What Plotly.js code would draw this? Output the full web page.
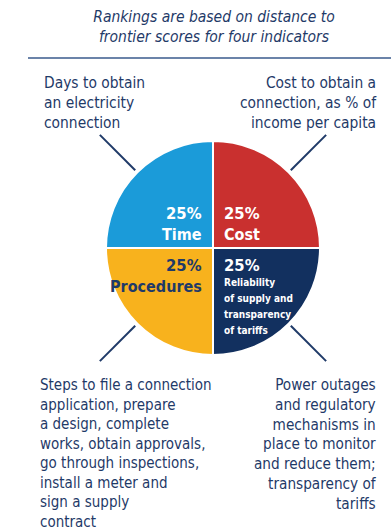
<!DOCTYPE html>
<html>
<head>
<meta charset="utf-8">
<script src="https://cdn.plot.ly/plotly-3.0.1.min.js"></script>
<style>html,body{margin:0;padding:0;background:#fff;}#chart{width:391px;height:532px;}</style>
</head>
<body>
<div id="chart"></div>
<script>
// Data
const categories = ['Time', 'Cost', 'Reliability of supply and transparency of tariffs', 'Procedures'];
const shares = [25, 25, 25, 25];
const shareLabels = ['25%', '25%', '25%', '25%'];
const sliceNames = ['Time', 'Cost', 'Reliability<br>of supply and<br>transparency<br>of tariffs', 'Procedures'];
const sliceColors = ['#1b9bd9', '#c9302f', '#12305f', '#f8b21d'];
const titleText = 'Rankings are based on distance to<br>frontier scores for four indicators';
const descriptions = [
  'Days to obtain<br>an electricity<br>connection',
  'Cost to obtain a<br>connection, as % of<br>income per capita',
  'Power outages<br>and regulatory<br>mechanisms in<br>place to monitor<br>and reduce them;<br>transparency of<br>tariffs',
  'Steps to file a connection<br>application, prepare<br>a design, complete<br>works, obtain approvals,<br>go through inspections,<br>install a meter and<br>sign a supply<br>contract'
];

const W = 391, H = 532;
const px = x => x / W;
const py = y => 1 - y / H;
const navy = '#1f3a68';
const FONT = 'Liberation Sans Narrow, DejaVu Sans Condensed, Arial Narrow, sans-serif';

const cx = 213, cy = 248, R = 107;

const trace = {
  type: 'pie',
  labels: categories,
  values: shares,
  sort: false,
  direction: 'clockwise',
  rotation: -90,
  marker: {colors: sliceColors, line: {color: '#ffffff', width: 2}},
  textinfo: 'none',
  hoverinfo: 'label+percent',
  showlegend: false,
  domain: {x: [px(cx - R), px(cx + R)], y: [py(cy + R), py(cy - R)]}
};

// Positions per slice (Time, Cost, Reliability, Procedures); y = centre of first line
const pctPos = [
  {x: 204, y: 213, xa: 'right', col: '#ffffff'},
  {x: 222, y: 213, xa: 'left', col: '#ffffff'},
  {x: 222, y: 265, xa: 'left', col: '#ffffff'},
  {x: 204, y: 265, xa: 'right', col: navy}
];
const namePos = [
  {x: 204, y: 234, xa: 'right', col: '#ffffff', size: 16, step: 21},
  {x: 222, y: 234, xa: 'left', col: '#ffffff', size: 16, step: 21},
  {x: 222, y: 282, xa: 'left', col: '#ffffff', size: 10, step: 16.3},
  {x: 204, y: 286, xa: 'right', col: navy, size: 16, step: 21}
];
const descPos = [
  {x: 42, y: 72, xa: 'left', size: 15.4},
  {x: 379, y: 72, xa: 'right', size: 15.4},
  {x: 379, y: 374, xa: 'right', size: 15.2},
  {x: 38, y: 374, xa: 'left', size: 15}
];

const annotations = [];
for (let i = 0; i < categories.length; i++) {
  annotations.push({
    xref: 'paper', yref: 'paper', x: px(pctPos[i].x), y: py(pctPos[i].y),
    xanchor: pctPos[i].xa, yanchor: 'middle', align: pctPos[i].xa, showarrow: false,
    text: '<b>' + shareLabels[i] + '</b>',
    font: {family: FONT, size: 16.5, color: pctPos[i].col}
  });
  sliceNames[i].split('<br>').forEach((line, k) => {
    annotations.push({
      xref: 'paper', yref: 'paper', x: px(namePos[i].x), y: py(namePos[i].y + k * namePos[i].step),
      xanchor: namePos[i].xa, yanchor: 'middle', align: namePos[i].xa, showarrow: false,
      text: '<b>' + line + '</b>',
      font: {family: FONT, size: namePos[i].size, color: namePos[i].col}
    });
  });
  annotations.push({
    xref: 'paper', yref: 'paper', x: px(descPos[i].x), y: py(descPos[i].y),
    xanchor: descPos[i].xa, yanchor: 'top', align: descPos[i].xa, showarrow: false,
    text: descriptions[i],
    font: {family: FONT, size: descPos[i].size, color: navy}
  });
}

// Divider and diagonal pointer lines at 45 degrees
const shapes = [
  {type: 'line', xref: 'paper', yref: 'paper', x0: px(28), x1: px(391), y0: py(58), y1: py(58), line: {color: '#3a5a8c', width: 1.5}}
];
const r0 = 110, r1 = 160;
[[-1, -1], [1, -1], [1, 1], [-1, 1]].forEach(([sx, sy]) => {
  const d0 = r0 / Math.SQRT2, d1 = r1 / Math.SQRT2;
  shapes.push({type: 'line', xref: 'paper', yref: 'paper',
    x0: px(cx + sx * d0), y0: py(cy + sy * d0), x1: px(cx + sx * d1), y1: py(cy + sy * d1),
    line: {color: navy, width: 2}});
});

const layout = {
  width: W, height: H,
  margin: {l: 0, r: 0, t: 0, b: 0},
  paper_bgcolor: '#ffffff',
  title: {text: titleText, x: px(214), xanchor: 'center', y: py(22), yanchor: 'top',
    font: {family: FONT, size: 15.5, color: navy, style: 'italic'}},
  annotations: annotations,
  shapes: shapes
};

Plotly.newPlot('chart', [trace], layout, {displayModeBar: false, staticPlot: true});
</script>
</body>
</html>
